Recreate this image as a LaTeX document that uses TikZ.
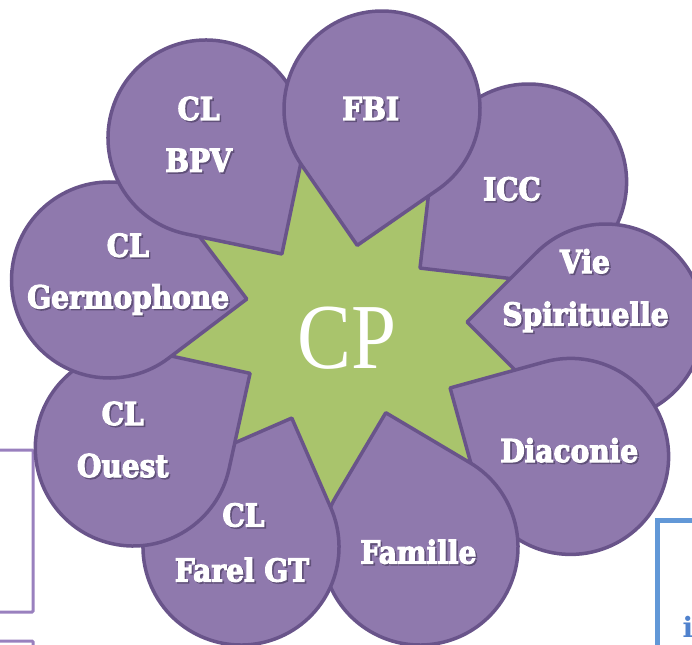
\documentclass[tikz,border=0pt]{standalone}
\usepackage{fontspec}
\usetikzlibrary{calc}
\newfontfamily\lblfont{DejaVu Serif}[FakeStretch=0.89,FakeBold=3.5]
\newfontfamily\ifont{DejaVu Serif}
\newfontfamily\cpfont{Liberation Serif}[FakeStretch=0.87]
\definecolor{petalfill}{RGB}{143,121,173}
\definecolor{petalline}{RGB}{105,84,138}
\definecolor{stargreen}{RGB}{169,196,108}
\definecolor{boxpurple}{RGB}{153,128,190}
\definecolor{boxblue}{RGB}{98,152,215}
\definecolor{iblue}{RGB}{80,130,205}
\definecolor{shadowtxt}{RGB}{96,80,121}
\tikzset{
  petal/.style={fill=petalfill, draw=petalline, line width=3.5pt, line join=round},
  starshape/.style={fill=stargreen},
  lbltx/.style={text=white, font=\lblfont\bfseries\fontsize{31.5}{38}\selectfont, anchor=base, inner sep=0pt},
  cptext/.style={text=white, font=\cpfont\fontsize{93}{100}\selectfont, anchor=base, inner sep=0pt},
  sidebox/.style={draw=boxpurple, line width=3pt, rounded corners=1pt},
  bluebox/.style={draw=boxblue, line width=4.5pt},
  itxt/.style={text=iblue, font=\ifont\bfseries\fontsize{28}{30}\selectfont, anchor=base, inner sep=0pt},
}
\newcommand\shadowed[1]{\rlap{\kern1.6pt\raisebox{-1.6pt}{\textcolor{shadowtxt}{#1}}}#1}
\newcommand\mkpetal[4]{%
  \coordinate (#1c) at (#2,#3);
  \coordinate (#1t) at ($(#1c)+(#4:138.59)$);
  \coordinate (#1p) at ($(#1c)+(#4+45:98)$);
  \coordinate (#1m) at ($(#1c)+(#4-45:98)$);}
\newcommand\drawpetal[2]{%
  \draw[petal] (#1t) -- (#1p) arc[start angle=#2+45, end angle=#2+315, radius=98] -- cycle;}
\newcommand\petallabel[3]{%
  \node[lbltx] (#1) at #2 {\shadowed{#3}};}
\newcommand\mkwedge[3]{%
  \coordinate (#1r) at (intersection of #2t--#2m and #3t--#3p);
  \coordinate (#1) at ($(#1r)!-5pt!(O)$);}
\begin{document}
\begin{tikzpicture}[x=1pt,y=-1pt]
\useasboundingbox (0,0) rectangle (692,644);
\clip (0,0) rectangle (692,644);
% side boxes
\draw[sidebox] (-10,450) rectangle (33,612);
\draw[sidebox] (-10,641) rectangle (33,700);
\draw[bluebox] (657.5,520.5) rectangle (720,700);
\node[itxt] (itext) at (688,637) {i};
\coordinate (O) at (350,332);
% petals geometry
\mkpetal{fbi}{382}{109}{100.3}
\mkpetal{bpv}{206}{138}{56.8}
\mkpetal{icc}{528.6}{182}{141.6}
\mkpetal{vsp}{605.6}{322}{180}
\mkpetal{dia}{570.6}{456.4}{209.6}
\mkpetal{fam}{420}{547}{255.7}
\mkpetal{far}{241}{547}{291.5}
\mkpetal{oue}{133.3}{448}{327.4}
\mkpetal{ger}{109.5}{280}{7.9}
% star
\mkwedge{wa}{dia}{fam}
\mkwedge{wb}{fam}{far}
\mkwedge{wc}{far}{oue}
\mkwedge{wd}{oue}{ger}
\mkwedge{we}{ger}{bpv}
\mkwedge{wf}{bpv}{fbi}
\mkwedge{wg}{fbi}{icc}
\mkwedge{wh}{icc}{vsp}
\mkwedge{wi}{vsp}{dia}
\fill[starshape] (diat) -- (wa) -- (famt) -- (wb) -- (fart) -- (wc) -- (ouet) -- (wd) -- (gert) -- (we) -- (bpvt) -- (wf) -- (fbit) -- (wg) -- (icct) -- (wh) -- (vspt) -- (wi) -- cycle;
% petals
\drawpetal{icc}{141.6}
\drawpetal{vsp}{180}
\drawpetal{dia}{209.6}
\drawpetal{fam}{255.7}
\drawpetal{far}{291.5}
\drawpetal{oue}{327.4}
\drawpetal{ger}{7.9}
\drawpetal{bpv}{56.8}
\drawpetal{fbi}{100.3}
% labels
\node[cptext] (cp) at (347,368) {CP};
\petallabel{bpva}{(198.6,120)}{CL}
\petallabel{bpvb}{(198.6,171.7)}{BPV}
\petallabel{fbil}{(370.7,120)}{FBI}
\petallabel{iccl}{(512,200.4)}{ICC}
\petallabel{vspa}{(585,273)}{Vie}
\petallabel{vspb}{(585.5,325.5)}{Spirituelle}
\petallabel{dial}{(569.3,462)}{Diaconie}
\petallabel{faml}{(418.4,563.5)}{Famille}
\petallabel{fara}{(243.5,526.5)}{CL}
\petallabel{farb}{(242,581.5)}{Farel GT}
\petallabel{ouea}{(122.7,425)}{CL}
\petallabel{oueb}{(122.7,477)}{Ouest}
\petallabel{gera}{(127.8,256.7)}{CL}
\petallabel{gerb}{(128.2,308.2)}{Germophone}
\end{tikzpicture}
\end{document}
